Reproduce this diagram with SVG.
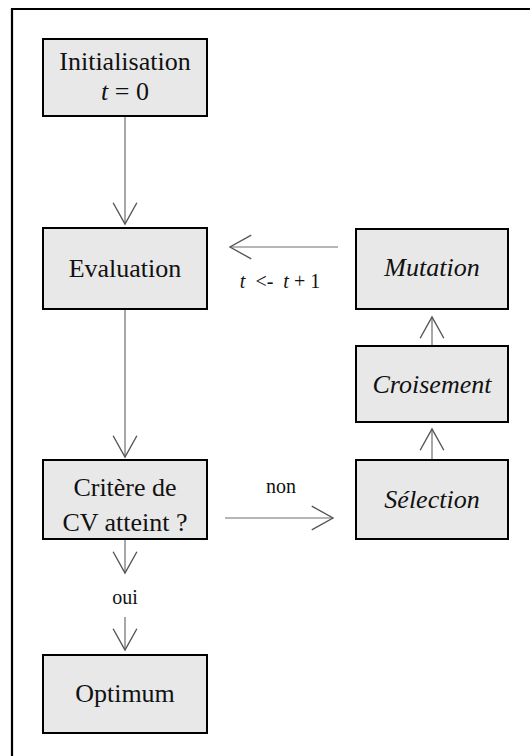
<svg xmlns="http://www.w3.org/2000/svg" width="530" height="756" viewBox="0 0 530 756">
<style>
.box{fill:#e8e8e8;stroke:#000;stroke-width:2}
.t{font-family:"Liberation Serif","Times New Roman",serif;font-size:26px;fill:#111;text-anchor:middle}
.i{font-style:italic}
.s{font-family:"Liberation Serif","Times New Roman",serif;font-size:20px;fill:#111;text-anchor:middle}
.c{stroke:#6e6e6e;stroke-width:1.2;fill:none}
</style>
<defs>
<marker id="arr" markerUnits="userSpaceOnUse" markerWidth="30" markerHeight="30" viewBox="-20 -12 24 24" refX="0" refY="0" orient="auto">
<path d="M-17,-9.5 L0,0 L-17,9.5" fill="none" stroke="#555" stroke-width="1.1"/>
</marker>
</defs>
<rect width="530" height="756" fill="#fff"/>
<g id="frame">
<path d="M12,756 V9 H530" fill="none" stroke="#000" stroke-width="2.2"/>
</g>
<g id="connectors">
<line class="c" x1="125" y1="116" x2="125" y2="224" marker-end="url(#arr)"/>
<line class="c" x1="125" y1="309" x2="125" y2="457" marker-end="url(#arr)"/>
<line class="c" x1="125" y1="539" x2="125" y2="573" marker-end="url(#arr)"/>
<line class="c" x1="125" y1="617" x2="125" y2="650" marker-end="url(#arr)"/>
<line class="c" x1="225" y1="518" x2="333" y2="518" marker-end="url(#arr)"/>
<line class="c" x1="432" y1="460" x2="432" y2="429" marker-end="url(#arr)"/>
<line class="c" x1="432" y1="346" x2="432" y2="317" marker-end="url(#arr)"/>
<line class="c" x1="338" y1="247" x2="230" y2="247" marker-end="url(#arr)"/>
<text class="s" x="281" y="493">non</text>
<text class="s" x="125" y="604">oui</text>
<text class="s" x="280" y="288" xml:space="preserve"><tspan class="i">t</tspan>  &lt;-  <tspan class="i">t</tspan> + 1</text>
</g>
<g id="init">
<rect class="box" x="43" y="39" width="164" height="77"/>
<text class="t" x="125" y="70">Initialisation</text>
<text class="t" x="125" y="100"><tspan class="i">t</tspan> = 0</text>
</g>
<g id="evaluation">
<rect class="box" x="43" y="228" width="164" height="81"/>
<text class="t" x="125" y="277">Evaluation</text>
</g>
<g id="critere">
<rect class="box" x="43" y="460" width="164" height="79"/>
<text class="t" x="125" y="496">Critère de</text>
<text class="t" x="125" y="531">CV atteint ?</text>
</g>
<g id="optimum">
<rect class="box" x="43" y="655" width="164" height="78"/>
<text class="t" x="125" y="702">Optimum</text>
</g>
<g id="mutation">
<rect class="box" x="356" y="229" width="152" height="80"/>
<text class="t i" x="432" y="276">Mutation</text>
</g>
<g id="croisement">
<rect class="box" x="356" y="346" width="152" height="76"/>
<text class="t i" x="432" y="393">Croisement</text>
</g>
<g id="selection">
<rect class="box" x="356" y="460" width="152" height="79"/>
<text class="t i" x="432" y="508">Sélection</text>
</g>
</svg>
